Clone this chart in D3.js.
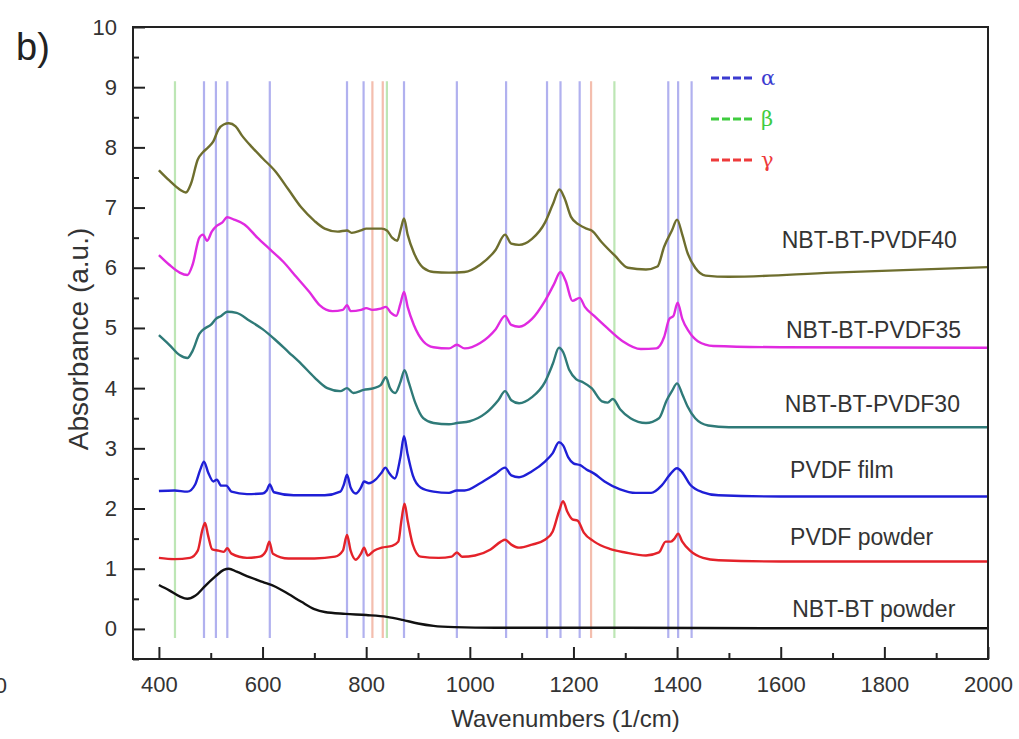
<!DOCTYPE html>
<html>
<head>
<meta charset="utf-8">
<script src="https://cdn.jsdelivr.net/npm/d3@7"></script>
<style>
  body { margin: 0; background: #fff; }
  svg { display: block; font-family: Arial, "Liberation Sans", sans-serif; }
</style>
</head>
<body>
<svg id="chart"></svg>
<script>
// Spectra, [wavenumber, absorbance]
const nbtBtPowder = [[400,0.73],[420,0.64],[440,0.54],[455,0.5],[470,0.55],[490,0.72],[510,0.88],[525,0.98],[535,1.0],[550,0.95],[575,0.86],[600,0.78],[625,0.7],[650,0.58],[675,0.45],[700,0.33],[720,0.28],[760,0.25],[800,0.23],[840,0.2],[870,0.15],[900,0.09],[930,0.05],[970,0.03],[1050,0.02],[1300,0.02],[1600,0.01],[2000,0.01]];
const pvdfPowder = [[400,1.18],[430,1.16],[460,1.18],[475,1.3],[484,1.65],[489,1.76],[495,1.55],[503,1.32],[515,1.3],[525,1.28],[532,1.34],[540,1.25],[570,1.18],[595,1.2],[607,1.3],[613,1.45],[620,1.25],[650,1.17],[700,1.17],[740,1.2],[755,1.3],[763,1.56],[770,1.3],[780,1.15],[790,1.25],[796,1.35],[803,1.22],[815,1.3],[830,1.35],[850,1.38],[862,1.45],[868,1.8],[874,2.08],[880,1.8],[890,1.4],[905,1.2],[940,1.18],[965,1.2],[975,1.27],[985,1.2],[1010,1.22],[1040,1.32],[1060,1.45],[1068,1.48],[1080,1.4],[1095,1.35],[1120,1.4],[1145,1.48],[1160,1.62],[1172,1.95],[1180,2.12],[1188,1.95],[1198,1.82],[1208,1.8],[1220,1.6],[1240,1.45],[1270,1.33],[1300,1.27],[1340,1.22],[1365,1.27],[1378,1.45],[1388,1.45],[1395,1.5],[1402,1.58],[1410,1.45],[1425,1.3],[1450,1.18],[1480,1.14],[1600,1.12],[1800,1.12],[2000,1.12]];
const pvdfFilm = [[400,2.29],[430,2.3],[455,2.28],[470,2.4],[480,2.65],[487,2.78],[495,2.6],[505,2.45],[512,2.48],[520,2.38],[530,2.38],[540,2.28],[570,2.24],[600,2.25],[608,2.3],[614,2.4],[622,2.27],[660,2.22],[720,2.22],[750,2.28],[757,2.4],[763,2.56],[770,2.35],[780,2.25],[790,2.35],[796,2.45],[805,2.42],[818,2.48],[830,2.6],[837,2.68],[845,2.58],[855,2.5],[866,2.85],[873,3.2],[880,2.9],[890,2.55],[905,2.35],[930,2.28],[960,2.26],[975,2.3],[990,2.3],[1020,2.42],[1050,2.58],[1068,2.68],[1080,2.55],[1095,2.52],[1120,2.62],[1145,2.78],[1160,2.92],[1172,3.1],[1180,3.05],[1190,2.85],[1200,2.75],[1213,2.72],[1225,2.65],[1240,2.58],[1260,2.45],[1290,2.32],[1320,2.26],[1350,2.26],[1370,2.38],[1385,2.55],[1400,2.67],[1410,2.6],[1425,2.4],[1450,2.27],[1480,2.22],[1600,2.2],[1800,2.2],[2000,2.2]];
const pvdf30 = [[400,4.88],[420,4.72],[440,4.55],[455,4.5],[465,4.62],[478,4.9],[490,5.0],[500,5.05],[510,5.15],[520,5.2],[532,5.27],[550,5.25],[575,5.12],[600,4.98],[625,4.8],[650,4.6],[675,4.4],[700,4.18],[725,4.0],[750,3.95],[763,4.0],[775,3.92],[795,3.97],[815,4.0],[828,4.05],[838,4.18],[846,4.0],[856,3.92],[866,4.1],[874,4.3],[882,4.1],[895,3.75],[910,3.5],[930,3.42],[960,3.4],[975,3.42],[1000,3.45],[1030,3.58],[1055,3.8],[1068,3.95],[1080,3.8],[1095,3.75],[1120,3.85],[1145,4.1],[1160,4.4],[1172,4.67],[1180,4.6],[1192,4.3],[1205,4.15],[1218,4.1],[1235,4.0],[1255,3.78],[1266,3.76],[1276,3.82],[1290,3.65],[1310,3.5],[1340,3.42],[1365,3.5],[1380,3.8],[1390,3.95],[1400,4.08],[1410,3.9],[1420,3.7],[1435,3.5],[1460,3.38],[1500,3.35],[1700,3.35],[2000,3.35]];
const pvdf35 = [[400,6.21],[420,6.05],[440,5.92],[455,5.88],[465,6.05],[478,6.5],[485,6.55],[493,6.45],[502,6.6],[512,6.7],[522,6.75],[532,6.84],[545,6.8],[565,6.72],[590,6.5],[615,6.3],[640,6.1],[665,5.85],[690,5.6],[710,5.38],[735,5.28],[755,5.3],[763,5.38],[770,5.28],[790,5.3],[800,5.33],[812,5.3],[828,5.32],[838,5.35],[848,5.25],[858,5.2],[866,5.4],[873,5.6],[880,5.35],[892,5.05],[910,4.78],[930,4.68],[960,4.66],[975,4.72],[990,4.66],[1020,4.75],[1050,4.98],[1068,5.2],[1080,5.05],[1095,5.02],[1120,5.15],[1145,5.45],[1162,5.72],[1175,5.93],[1185,5.78],[1198,5.45],[1212,5.5],[1222,5.35],[1240,5.2],[1265,5.0],[1295,4.78],[1330,4.65],[1360,4.66],[1375,4.85],[1385,5.15],[1393,5.2],[1401,5.42],[1410,5.15],[1422,4.95],[1440,4.78],[1470,4.7],[1600,4.68],[2000,4.67]];
const pvdf40 = [[400,7.62],[420,7.45],[440,7.3],[452,7.25],[462,7.4],[475,7.8],[485,7.92],[495,8.0],[505,8.1],[515,8.3],[525,8.38],[535,8.4],[548,8.35],[560,8.2],[580,8.0],[600,7.82],[625,7.6],[650,7.3],[675,7.0],[700,6.78],[720,6.65],[745,6.6],[763,6.62],[772,6.58],[790,6.62],[800,6.65],[815,6.65],[830,6.65],[840,6.62],[850,6.5],[860,6.45],[867,6.65],[873,6.82],[880,6.55],[892,6.25],[910,6.0],[930,5.93],[960,5.92],[990,5.93],[1020,6.05],[1050,6.3],[1068,6.55],[1080,6.4],[1095,6.38],[1120,6.48],[1145,6.75],[1160,7.05],[1173,7.3],[1183,7.15],[1195,6.85],[1210,6.72],[1225,6.65],[1235,6.62],[1255,6.42],[1280,6.2],[1305,6.0],[1340,5.97],[1362,6.02],[1375,6.35],[1390,6.62],[1400,6.8],[1410,6.55],[1420,6.25],[1435,6.0],[1455,5.87],[1500,5.85],[1700,5.92],[2000,6.01]];

const seriesNames = ["NBT-BT powder", "PVDF powder", "PVDF film", "NBT-BT-PVDF30", "NBT-BT-PVDF35", "NBT-BT-PVDF40"];
const seriesData = [nbtBtPowder, pvdfPowder, pvdfFilm, pvdf30, pvdf35, pvdf40];
// label anchor: [wavenumber, absorbance] of the text baseline start
const labelAnchors = [[1622, 0.2], [1618, 1.4], [1618, 2.5], [1608, 3.6], [1610, 4.83], [1602, 6.33]];

// phase marker wavenumbers
const alphaBands = [487, 510, 532, 614, 763, 795, 873, 975, 1070, 1149, 1175, 1212, 1383, 1402, 1428];
const betaBands = [431, 840, 1279];
const gammaBands = [812, 832, 1234];
const phaseNames = ["α", "β", "γ"];

const xTicks = [400, 600, 800, 1000, 1200, 1400, 1600, 1800, 2000];
const yTicks = [0, 1, 2, 3, 4, 5, 6, 7, 8, 9, 10];

const W = 1019, H = 739;
const margin = { left: 133, right: 30, top: 27, bottom: 80 };
const seriesColors = ["#111111", "#e4222a", "#1f1fd6", "#2f7a78", "#e02ae0", "#6e6e2e"];
const bandColors = ["#a9a9ee", "#b6e4ae", "#f3b7a6"];
const legendColors = ["#3b3bd0", "#3fcc3f", "#ee3b3b"];

const svg = d3.select("#chart").attr("width", W).attr("height", H);
svg.append("rect").attr("width", W).attr("height", H).attr("fill", "#fff");

const x = d3.scaleLinear().domain([350, 2000]).range([margin.left, W - margin.right - 1]);
const y = d3.scaleLinear().domain([-0.5, 10]).range([H - margin.bottom, margin.top]);

// phase marker lines
const bands = [alphaBands, betaBands, gammaBands];
bands.forEach((list, i) => {
  svg.append("g").selectAll("line")
    .data(list)
    .enter().append("line")
    .attr("x1", d => x(d)).attr("x2", d => x(d))
    .attr("y1", y(9.1)).attr("y2", y(-0.15))
    .attr("stroke", bandColors[i])
    .attr("stroke-width", 2.2)
    .attr("opacity", 0.9);
});

// spectra
const line = d3.line()
  .x(d => x(d[0]))
  .y(d => y(d[1]))
  .curve(d3.curveMonotoneX);

svg.append("g").selectAll("path")
  .data(seriesData)
  .enter().append("path")
  .attr("d", line)
  .attr("fill", "none")
  .attr("stroke", (d, i) => seriesColors[i])
  .attr("stroke-width", 2.4)
  .attr("stroke-linejoin", "round");

// series labels
svg.append("g").selectAll("text")
  .data(seriesNames)
  .enter().append("text")
  .attr("x", (d, i) => x(labelAnchors[i][0]))
  .attr("y", (d, i) => y(labelAnchors[i][1]))
  .attr("font-size", 23)
  .attr("fill", "#333")
  .text(d => d);

// axes box
const x0 = x.range()[0], x1 = x.range()[1], yb = y.range()[0], yt = y.range()[1];
svg.append("rect")
  .attr("x", x0).attr("y", yt)
  .attr("width", x1 - x0).attr("height", yb - yt)
  .attr("fill", "none").attr("stroke", "#222").attr("stroke-width", 2);

const xAxis = svg.append("g")
  .attr("transform", `translate(0,${yb})`)
  .call(d3.axisBottom(x).tickValues(xTicks).tickSize(-12).tickPadding(17).tickFormat(d3.format("d")));
const xMinor = svg.append("g")
  .attr("transform", `translate(0,${yb})`)
  .call(d3.axisBottom(x).tickValues(d3.range(500, 2000, 200)).tickSize(-6).tickFormat(""));

const yAxis = svg.append("g")
  .attr("transform", `translate(${x0},0)`)
  .call(d3.axisLeft(y).tickValues(yTicks).tickSize(-12).tickPadding(16).tickFormat(d3.format("d")));
const yMinor = svg.append("g")
  .attr("transform", `translate(${x0},0)`)
  .call(d3.axisLeft(y).tickValues(d3.range(-0.5, 10, 1)).tickSize(-6).tickFormat(""));

[xAxis, xMinor, yAxis, yMinor].forEach(a => {
  a.select(".domain").remove();
  a.selectAll("line").attr("stroke", "#222").attr("stroke-width", 2);
  a.selectAll("text").attr("font-size", 22).attr("fill", "#333")
    .attr("font-family", "Arial, 'Liberation Sans', sans-serif");
});

// axis titles
svg.append("text")
  .attr("x", (x0 + x1) / 2 + 5).attr("y", 727)
  .attr("text-anchor", "middle")
  .attr("font-size", 24).attr("fill", "#333")
  .text("Wavenumbers (1/cm)");

svg.append("text")
  .attr("transform", "translate(88,339) rotate(-90)")
  .attr("text-anchor", "middle")
  .attr("font-size", 28).attr("fill", "#333")
  .text("Absorbance (a.u.)");

// panel letter and stray tick label from neighbouring panel
svg.append("text").attr("x", 16).attr("y", 60)
  .attr("font-size", 38).attr("fill", "#222").text("b)");
svg.append("text").attr("x", 7).attr("y", 693)
  .attr("text-anchor", "end")
  .attr("font-size", 22).attr("fill", "#333").text("0");

// legend
const legend = svg.append("g").attr("transform", "translate(711,78)");
phaseNames.forEach((name, i) => {
  const row = legend.append("g").attr("transform", `translate(0,${i * 41})`);
  row.append("line")
    .attr("x1", 0).attr("x2", 42)
    .attr("stroke", legendColors[i]).attr("stroke-width", 3)
    .attr("stroke-dasharray", "8,3");
  row.append("text")
    .attr("x", 50).attr("y", 7)
    .attr("font-size", 21)
    .attr("font-family", "'DejaVu Serif', serif")
    .attr("fill", legendColors[i])
    .text(name);
});
</script>
</body>
</html>
